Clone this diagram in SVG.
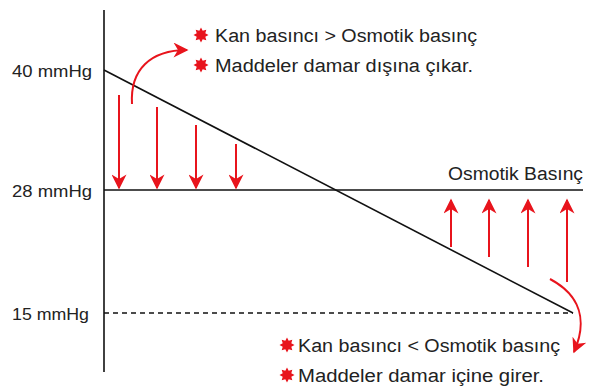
<svg xmlns="http://www.w3.org/2000/svg" width="594" height="387" viewBox="0 0 594 387">
<style>
text{font-family:"Liberation Sans",Arial,sans-serif;fill:#222}
.lbl{font-size:16px}
.t{font-size:18px}
.ax{stroke:#111;stroke-width:1.6;fill:none}
.ra{stroke:#e8141c;stroke-width:2;fill:none}
.star{fill:#e8141c}
</style>
<defs>
<marker id="ahb" viewBox="0 0 10 10" refX="9" refY="5" markerWidth="19" markerHeight="15" markerUnits="userSpaceOnUse" orient="auto">
<path d="M0,0 L10,5 L0,10 L3,5 Z" fill="#e8141c"/>
</marker>
<path id="burst" d="M0,-7.5 L1.7,-4.3 L5.3,-5.3 L4.3,-1.7 L7.5,0 L4.3,1.7 L5.3,5.3 L1.7,4.3 L0,7.5 L-1.7,4.3 L-5.3,5.3 L-4.3,1.7 L-7.5,0 L-4.3,-1.7 L-5.3,-5.3 L-1.7,-4.3 Z"/>
</defs>
<g id="axes">
<line class="ax" x1="104" y1="10" x2="104" y2="372"/>
<line class="ax" x1="104" y1="190" x2="583" y2="190"/>
<line class="ax" x1="104" y1="313" x2="573" y2="313" stroke-dasharray="5,4"/>
<line class="ax" x1="104" y1="70" x2="573" y2="313"/>
</g>
<g id="labels">
<text class="lbl" x="12" y="77" textLength="80" lengthAdjust="spacingAndGlyphs">40 mmHg</text>
<text class="lbl" x="12" y="197" textLength="80" lengthAdjust="spacingAndGlyphs">28 mmHg</text>
<text class="lbl" x="12" y="320" textLength="77" lengthAdjust="spacingAndGlyphs">15 mmHg</text>
<text class="t" x="448" y="180" textLength="135" lengthAdjust="spacingAndGlyphs">Osmotik Basınç</text>
</g>
<g id="connectors">
<line class="ra" x1="119" y1="95" x2="119" y2="188" marker-end="url(#ahb)"/>
<line class="ra" x1="157" y1="107" x2="157" y2="188" marker-end="url(#ahb)"/>
<line class="ra" x1="196" y1="125" x2="196" y2="188" marker-end="url(#ahb)"/>
<line class="ra" x1="236" y1="144" x2="236" y2="188" marker-end="url(#ahb)"/>
<line class="ra" x1="451" y1="247" x2="451" y2="200" marker-end="url(#ahb)"/>
<line class="ra" x1="489" y1="257" x2="489" y2="200" marker-end="url(#ahb)"/>
<line class="ra" x1="528" y1="267" x2="528" y2="200" marker-end="url(#ahb)"/>
<line class="ra" x1="567" y1="282" x2="567" y2="200" marker-end="url(#ahb)"/>
<path class="ra" d="M132,104 C130,70 150,50 187,50" marker-end="url(#ahb)"/>
<path class="ra" d="M550,279 C580,295 588,320 574,352" marker-end="url(#ahb)"/>
</g>
<g id="note-top">
<use href="#burst" class="star" x="201" y="35"/>
<text class="t" x="215" y="42" textLength="262" lengthAdjust="spacingAndGlyphs">Kan basıncı &gt; Osmotik basınç</text>
<use href="#burst" class="star" x="201" y="65"/>
<text class="t" x="215" y="72" textLength="258" lengthAdjust="spacingAndGlyphs">Maddeler damar dışına çıkar.</text>
</g>
<g id="note-bottom">
<use href="#burst" class="star" x="287" y="345"/>
<text class="t" x="298" y="352" textLength="262" lengthAdjust="spacingAndGlyphs">Kan basıncı &lt; Osmotik basınç</text>
<use href="#burst" class="star" x="287" y="375"/>
<text class="t" x="298" y="382" textLength="246" lengthAdjust="spacingAndGlyphs">Maddeler damar içine girer.</text>
</g>
</svg>
